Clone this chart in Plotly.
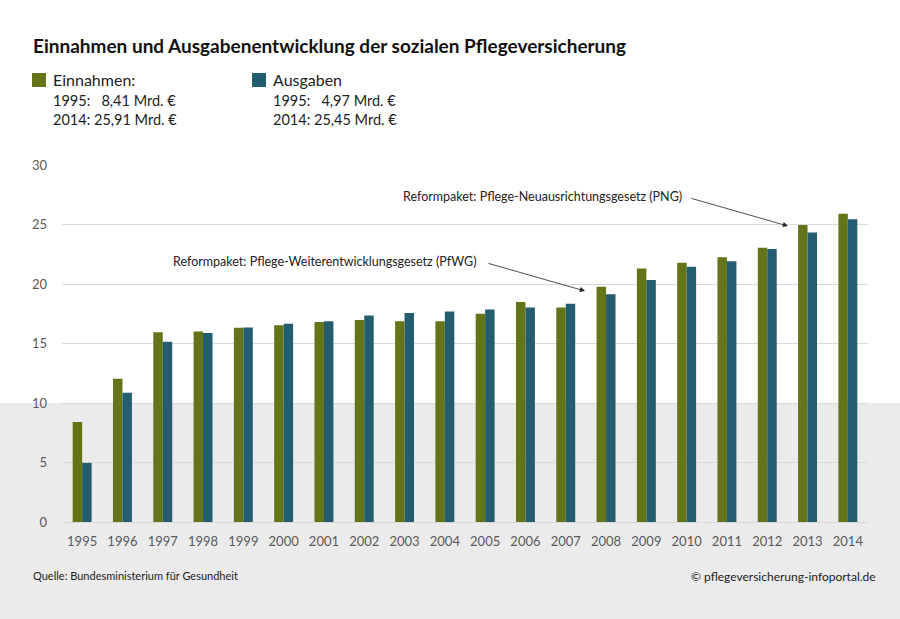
import plotly.graph_objects as go

years = [str(y) for y in range(1995, 2015)]
einnahmen = [8.41, 12.04, 15.94, 16.00, 16.32, 16.54, 16.81, 16.98, 16.86, 16.87,
             17.49, 18.49, 18.02, 19.77, 21.31, 21.78, 22.24, 23.04, 24.96, 25.91]
ausgaben = [4.97, 10.86, 15.14, 15.88, 16.35, 16.67, 16.87, 17.36, 17.56, 17.69,
            17.86, 18.03, 18.34, 19.14, 20.33, 21.45, 21.92, 22.94, 24.33, 25.45]
y_ticks = [0, 5, 10, 15, 20, 25, 30]

GREEN = "#637419"
BLUE = "#245D70"
FONT = "Lato"
W, H = 900, 619
L, R, T, B = 62, 32, 165, 97

def px(x):
    return (x - L) / (W - L - R)

def py(y):
    return (H - B - y) / (H - T - B)

fig = go.Figure()
fig.add_trace(go.Bar(x=years, y=einnahmen, name="Einnahmen", marker=dict(color=GREEN, line=dict(width=0))))
fig.add_trace(go.Bar(x=years, y=ausgaben, name="Ausgaben", marker=dict(color=BLUE, line=dict(width=0))))

shapes = [
    # grey lower background
    dict(type="rect", xref="paper", yref="paper", x0=-0.2, x1=1.2, y0=-0.5, y1=10 / 30,
         fillcolor="#EBEBEB", line=dict(width=0), layer="below"),
    # legend squares
    dict(type="rect", xref="paper", yref="paper", x0=px(32), x1=px(46), y0=py(87), y1=py(73),
         fillcolor=GREEN, line=dict(width=0)),
    dict(type="rect", xref="paper", yref="paper", x0=px(252), x1=px(266), y0=py(87), y1=py(73),
         fillcolor=BLUE, line=dict(width=0)),
]

ann = []
def text(x, y, s, size, color="#222222", anchor="left", bold=False):
    ann.append(dict(xref="paper", yref="paper", x=px(x), y=py(y), text=("<b>%s</b>" % s) if bold else s,
                    showarrow=False, xanchor=anchor, yanchor="middle",
                    font=dict(family=FONT, size=size, color=color)))

text(31, 45, "Einnahmen und Ausgabenentwicklung der sozialen Pflegeversicherung", 19, "#111111", bold=True)
text(51, 80, "Einnahmen:", 16)
text(51, 100, "1995:&nbsp;&nbsp;&nbsp;8,41 Mrd. €", 14.5)
text(51, 119, "2014: 25,91 Mrd. €", 14.5)
text(271, 80, "Ausgaben", 16)
text(271, 100, "1995:&nbsp;&nbsp;&nbsp;4,97 Mrd. €", 14.5)
text(271, 119, "2014: 25,45 Mrd. €", 14.5)
text(31, 575, "Quelle: Bundesministerium für Gesundheit", 11)
text(878, 576, "© pflegeversicherung-infoportal.de", 12, anchor="right")

# annotations with arrows
ann.append(dict(xref="paper", yref="paper", x=px(788), y=py(226), ax=-98, ay=-28,
                axref="pixel", ayref="pixel", text="", showarrow=True, arrowhead=2, arrowsize=1.3,
                arrowwidth=0.8, arrowcolor="#222222"))
ann.append(dict(xref="paper", yref="paper", x=px(585), y=py(291), ax=-98, ay=-28,
                axref="pixel", ayref="pixel", text="", showarrow=True, arrowhead=2, arrowsize=1.3,
                arrowwidth=0.8, arrowcolor="#222222"))
text(684, 196, "Reformpaket: Pflege-Neuausrichtungsgesetz (PNG)", 12.5, anchor="right")
text(479, 261, "Reformpaket: Pflege-Weiterentwicklungsgesetz (PfWG)", 12.5, anchor="right")

fig.update_layout(
    width=W, height=H,
    margin=dict(l=L, r=R, t=T, b=B, pad=0),
    paper_bgcolor="white", plot_bgcolor="rgba(0,0,0,0)",
    barmode="group", bargap=0.53, bargroupgap=0,
    showlegend=False,
    shapes=shapes, annotations=ann,
    font=dict(family=FONT),
)
fig.update_xaxes(type="category", showgrid=False, showline=False, ticks="",
                 tickfont=dict(family=FONT, size=13, color="#595959"), ticklabelstandoff=10)
fig.update_yaxes(range=[0, 30], tickvals=y_ticks, showgrid=True, gridcolor="#D9D9D9", gridwidth=1,
                 zeroline=True, zerolinecolor="#D9D9D9", zerolinewidth=1, showline=False, ticks="",
                 tickfont=dict(family=FONT, size=13, color="#595959"), ticklabelstandoff=14)

fig.write_html("out.html")
